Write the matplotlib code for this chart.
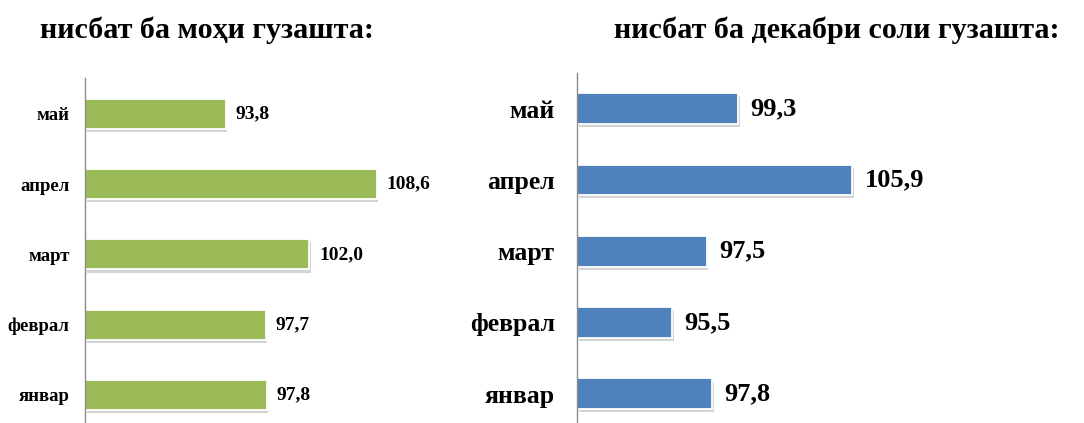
import matplotlib
matplotlib.use("Agg")
import matplotlib.pyplot as plt
import matplotlib.patheffects as pe

# months, bottom to top
months = ["январ", "феврал", "март", "апрел", "май"]
# index relative to the previous month
prev_month = [97.8, 97.7, 102.0, 108.6, 93.8]
# index relative to December of the previous year
prev_december = [97.8, 95.5, 97.5, 105.9, 99.3]

title_left = "нисбат ба моҳи гузашта:"
title_right = "нисбат ба декабри соли гузашта:"

plt.rcParams['font.family'] = ['Liberation Serif', 'DejaVu Serif']
plt.rcParams['font.weight'] = 'bold'

W, H = 1084, 423
fig = plt.figure(figsize=(W / 100, H / 100), dpi=100)
fig.patch.set_facecolor("white")


def panel(rect, values, color, x0, xmax, ylim, lab_size, val_size, lab_pad, val_pad):
    ax = fig.add_axes(rect)
    shadow = [pe.SimplePatchShadow(offset=(1.2, -2.2), shadow_rgbFace="#a8a8a8", alpha=0.5), pe.Normal()]
    bars = ax.barh(range(len(months)), [v - x0 for v in values], left=x0,
                   height=0.43, color=color, edgecolor="white", linewidth=1.3)
    for b in bars:
        b.set_path_effects(shadow)
    for i, v in enumerate(values):
        ax.annotate(f"{v:.1f}".replace(".", ","), (v, i), xytext=(val_pad, 0),
                    textcoords="offset points", va="center", ha="left",
                    fontsize=val_size, fontweight="bold")
    ax.set_xlim(x0, xmax)
    ax.set_ylim(*ylim)
    ax.set_yticks(range(len(months)))
    ax.set_yticklabels(months, fontsize=lab_size, fontweight="bold")
    ax.tick_params(axis="y", length=0, pad=lab_pad)
    ax.set_xticks([])
    for s in ["top", "right", "bottom"]:
        ax.spines[s].set_visible(False)
    ax.spines["left"].set_color("#8c8c8c")
    ax.spines["left"].set_linewidth(1.0)
    ax.set_facecolor("none")
    return ax


# left panel: axis at x=85px, 10.2 px per unit from 80
panel([85 / W, 0, 355 / W, 345 / H], prev_month, "#9bbb59",
      80, 80 + 355 / 10.2, (-0.4, 4.51), 13.5, 14, 11, 7)
# right panel: axis at x=577px, 17.3 px per unit from 90
panel([577 / W, 0, 483 / W, 350 / H], prev_december, "#4f81bd",
      90, 90 + 483 / 17.3, (-0.41, 4.5), 18.5, 19, 16, 9)

fig.text(207 / W, 1 - 30 / H, title_left, ha="center", va="center",
         fontsize=21.7, fontweight="bold")
fig.text(837 / W, 1 - 30 / H, title_right, ha="center", va="center",
         fontsize=21.7, fontweight="bold")

fig.savefig("out.png", dpi=100, facecolor="white")
